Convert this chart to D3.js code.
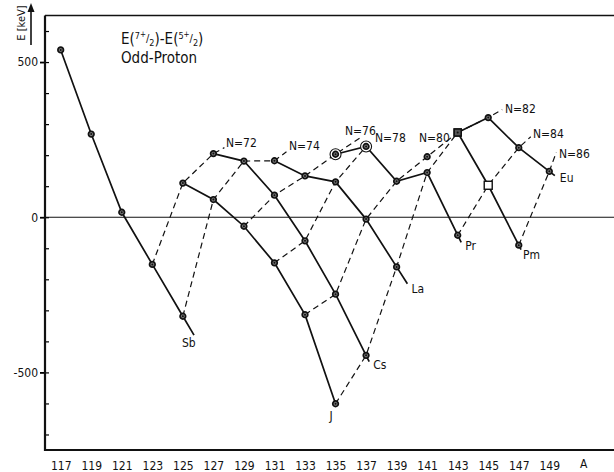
<!DOCTYPE html>
<html>
<head>
<meta charset="utf-8">
<script src="https://cdn.jsdelivr.net/npm/d3@7"></script>
<style>
  body { margin: 0; background: #fff; }
  svg { display: block; }
  text { font-family: "DejaVu Sans Condensed", "DejaVu Sans", sans-serif; font-stretch: condensed; fill: #111; }
</style>
</head>
<body>
<div id="chart"></div>
<script>
// ---- data ----
const massTicks = [117, 119, 121, 123, 125, 127, 129, 131, 133, 135, 137, 139, 141, 143, 145, 147, 149];
const energyTicks = [-500, 0, 500];
const minorTicks = [-700, -600, -400, -300, -200, -100, 100, 200, 300, 400, 600];

// [A, E(7/2+) - E(5/2+) in keV]
const sb = [[117, 539], [119, 268], [121, 16], [123, -152], [125, -319]];
const iod = [[125, 110], [127, 57], [129, -29], [131, -147], [133, -314], [135, -601]];
const cs = [[127, 205], [129, 181], [131, 71], [133, -76], [135, -248], [137, -445]];
const la = [[131, 182], [133, 133], [135, 114], [137, -6], [139, -160]];
const pr = [[135, 203], [137, 228], [139, 116], [141, 144], [143, -58]];
const pm = [[141, 195], [143, 273], [145, 103], [147, -90]];
const eu = [[143, 273], [145, 321], [147, 224], [149, 148]];

const elements = ['Sb', 'J', 'Cs', 'La', 'Pr', 'Pm', 'Eu'];
const protons = [51, 53, 55, 57, 59, 61, 63];
const isotopes = [sb, iod, cs, la, pr, pm, eu];
const solidFrom = [117, 125, 127, 131, 135, 143, 143];   // Pm141 only sits on the N=80 line
const isotones = [72, 74, 76, 78, 80, 82, 84, 86];

const ringed = ['Pr135', 'Pr137'];
const openSquare = ['Pm145'];
const crossSquare = ['Pm143', 'Eu143'];

// ---- layout ----
const W = 614, H = 472, X0 = 45, TOP = 15.5, BASE = 450;
const svg = d3.select('#chart').append('svg').attr('width', W).attr('height', H);

const x = d3.scaleLinear().domain([117, 149]).range([60.7, 549.3]);
const y = d3.scaleLinear().domain([-750, 650]).range([BASE, TOP]);

// frame & zero line
svg.append('line').attr('x1', X0).attr('x2', W).attr('y1', TOP).attr('y2', TOP)
  .attr('stroke', '#111').attr('stroke-width', 1.5);
svg.append('line').attr('x1', X0).attr('x2', W).attr('y1', y(0)).attr('y2', y(0))
  .attr('stroke', '#111').attr('stroke-width', 1.2);

// y axis
const yAxis = svg.append('g').attr('transform', `translate(${X0},0)`)
  .call(d3.axisLeft(y).tickValues(energyTicks).tickSize(5).tickSizeOuter(0).tickPadding(2).tickFormat(d => String(d)));
yAxis.select('.domain').remove();
yAxis.selectAll('text').style('font-size', '12px').style('font-family', null);
yAxis.selectAll('line').attr('stroke-width', 1.8);

const yMinor = svg.append('g').attr('transform', `translate(${X0},0)`)
  .call(d3.axisRight(y).tickValues(minorTicks.concat(energyTicks)).tickSize(4).tickFormat(''));
yMinor.select('.domain').remove();
yMinor.selectAll('line').attr('stroke-width', 1.2);

svg.append('line').attr('x1', X0).attr('x2', X0).attr('y1', TOP).attr('y2', BASE + 1)
  .attr('stroke', '#111').attr('stroke-width', 2.2);

// x axis
const xAxis = svg.append('g').attr('transform', `translate(0,${BASE})`)
  .call(d3.axisBottom(x).tickValues(massTicks).tickSize(0).tickPadding(11));
xAxis.select('.domain').remove();
xAxis.selectAll('text').style('font-size', '12px').style('font-family', null);
svg.append('line').attr('x1', X0 - 1).attr('x2', W).attr('y1', BASE).attr('y2', BASE)
  .attr('stroke', '#111').attr('stroke-width', 2.2);
svg.append('text').attr('x', 580).attr('y', 468).style('font-size', '12px').text('A');

// axis title with arrow
svg.append('text').attr('transform', 'translate(25,23) rotate(-90)')
  .attr('text-anchor', 'middle').style('font-size', '11px').text('E [keV]');
svg.append('line').attr('x1', 31).attr('x2', 31).attr('y1', 45).attr('y2', 10)
  .attr('stroke', '#111').attr('stroke-width', 1.6);
svg.append('path').attr('d', 'M31,3 L27.5,12 L34.5,12 Z').attr('fill', '#111');

// chart title
const title = svg.append('text').attr('x', 121).attr('y', 44).style('font-size', '15px');
title.append('tspan').text('E(');
title.append('tspan').attr('dy', -5).style('font-size', '9px').text('7');
title.append('tspan').attr('dy', -2).style('font-size', '8px').text('+');
title.append('tspan').attr('dy', 5).style('font-size', '11px').text('/');
title.append('tspan').attr('dy', 4).style('font-size', '9px').text('2');
title.append('tspan').attr('dy', -2).text(')-E(');
title.append('tspan').attr('dy', -5).style('font-size', '9px').text('5');
title.append('tspan').attr('dy', -2).style('font-size', '8px').text('+');
title.append('tspan').attr('dy', 5).style('font-size', '11px').text('/');
title.append('tspan').attr('dy', 4).style('font-size', '9px').text('2');
title.append('tspan').attr('dy', -2).text(')');
svg.append('text').attr('x', 121).attr('y', 63).style('font-size', '15px').text('Odd-Proton');

// ---- points table ----
const points = [];
isotopes.forEach((list, i) => {
  list.forEach(d => points.push({
    el: elements[i], Z: protons[i], A: d[0], E: d[1], N: d[0] - protons[i],
    key: elements[i] + d[0], px: x(d[0]), py: y(d[1])
  }));
});

const line = d3.line().x(d => d[0]).y(d => d[1]);

// isotone lines (dashed) with short tails to their labels
const isoTail = [[11, -6], [12, -9], [24, -16], [5, -6], [0, 0], [14, -8], [12, -11], [7, -19]];
const isoLabel = [[226, 147], [289, 150], [345, 135], [375, 142], [419, 142], [505, 113], [533, 137.5], [559, 157.5]];

isotones.forEach((n, i) => {
  const pts = points.filter(p => p.N === n).sort((a, b) => a.A - b.A).map(p => [p.px, p.py]);
  const last = pts[pts.length - 1];
  if (isoTail[i][0] || isoTail[i][1]) pts.push([last[0] + isoTail[i][0], last[1] + isoTail[i][1]]);
  svg.append('path').attr('d', line(pts)).attr('fill', 'none')
    .attr('stroke', '#111').attr('stroke-width', 1.2).attr('stroke-dasharray', '6,4');
  svg.append('text').attr('x', isoLabel[i][0]).attr('y', isoLabel[i][1])
    .style('font-size', '12px').text('N=' + n);
});

// element lines (solid), extended past the last isotope towards the label
const tailLen = [22, 0, 7, 20, 8, 5, 7];
const elLabelOffset = [[-12, 12], [-6, 16], [4, 7.5], [4, 9.5], [4, 8], [2, 9], [5, 6.5]];

elements.forEach((el, i) => {
  const pts = points.filter(p => p.el === el && p.A >= solidFrom[i]).map(p => [p.px, p.py]);
  const a = pts[pts.length - 2], b = pts[pts.length - 1];
  const dx = b[0] - a[0], dy = b[1] - a[1], len = Math.hypot(dx, dy);
  const end = [b[0] + dx / len * tailLen[i], b[1] + dy / len * tailLen[i]];
  pts.push(end);
  svg.append('path').attr('d', line(pts)).attr('fill', 'none')
    .attr('stroke', '#111').attr('stroke-width', 1.7);
  svg.append('text').attr('x', end[0] + elLabelOffset[i][0]).attr('y', end[1] + elLabelOffset[i][1])
    .style('font-size', '12px').text(el);
});

// markers
const mk = svg.selectAll('.mk').data(points).join('g').attr('class', 'mk')
  .attr('transform', d => `translate(${d.px},${d.py})`);

mk.filter(d => ringed.includes(d.key)).append('circle')
  .attr('r', 5.5).attr('fill', '#fff').attr('stroke', '#111').attr('stroke-width', 1.1);

mk.filter(d => openSquare.includes(d.key)).append('rect')
  .attr('x', -4).attr('y', -4).attr('width', 8).attr('height', 8)
  .attr('fill', '#fff').attr('stroke', '#111').attr('stroke-width', 1.4);

mk.filter(d => crossSquare.includes(d.key)).append('rect')
  .attr('x', -3.5).attr('y', -3.5).attr('width', 7).attr('height', 7)
  .attr('fill', '#555').attr('stroke', '#111').attr('stroke-width', 1.5);

mk.filter(d => !openSquare.includes(d.key) && !crossSquare.includes(d.key)).append('circle')
  .attr('r', 2.8).attr('fill', '#777').attr('stroke', '#111').attr('stroke-width', 1.7);

mk.filter(d => !openSquare.includes(d.key)).append('circle')
  .attr('r', 1).attr('fill', '#111');
</script>
</body>
</html>
